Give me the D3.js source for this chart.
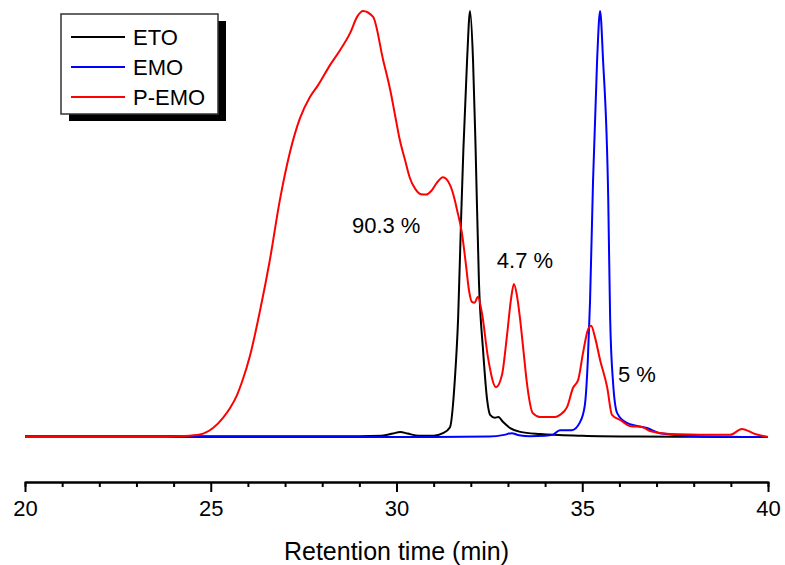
<!DOCTYPE html>
<html>
<head>
<meta charset="utf-8">
<script src="https://cdn.jsdelivr.net/npm/d3@7"></script>
<style>
  html, body { margin: 0; padding: 0; background: #ffffff; }
  svg { display: block; font-family: Arial, "Liberation Sans", sans-serif; }
</style>
</head>
<body>
<svg id="chart" width="785" height="565"></svg>
<script>
// ---- data (retention time in min, signal in arbitrary units) ----
const seriesNames = ["ETO", "EMO", "P-EMO"];
const seriesColors = ["#000000", "#0000ff", "#ff0000"];
const majorTicks = [20, 25, 30, 35, 40];
const minorTicks = [21, 22, 23, 24, 26, 27, 28, 29, 31, 32, 33, 34, 36, 37, 38, 39];
const xTitle = "Retention time (min)";
const annotations = [
  { text: "90.3 %", x: 28.8, y: 47.9 },
  { text: "4.7 %", x: 32.7, y: 39.7 },
  { text: "5 %", x: 35.96, y: 12.9 }
];

const etoData = [
  [20, 0.2], [25, 0.2], [29.0, 0.2], [29.6, 0.3], [29.9, 0.8], [30.1, 1.2], [30.3, 0.8],
  [30.6, 0.3], [31.0, 0.3], [31.25, 0.9], [31.44, 2.3], [31.57, 13.4], [31.66, 28.2],
  [31.74, 51.6], [31.80, 67.4], [31.90, 88.5], [31.98, 100], [32.06, 88.5], [32.13, 67.4],
  [32.22, 36.2], [32.33, 20.4], [32.44, 8.7], [32.52, 5.2], [32.65, 4.5], [32.74, 4.7],
  [32.87, 3.5], [33.06, 2.1], [33.33, 1.2], [33.87, 0.7], [35.0, 0.3], [36.5, 0.1],
  [38.0, 0.05], [40, 0]
];

const emoData = [
  [20, 0], [29, 0], [31, 0], [32.5, 0.1], [32.9, 0.5], [33.1, 0.9], [33.3, 0.4],
  [33.6, 0.2], [34.0, 0.3], [34.2, 0.5], [34.4, 1.6], [34.72, 1.6], [34.94, 3.5],
  [35.07, 7.5], [35.15, 18], [35.21, 32], [35.29, 60], [35.40, 88.5], [35.48, 100],
  [35.56, 88.5], [35.70, 55.6], [35.75, 28.2], [35.83, 12.7], [35.94, 5.6], [36.20, 3.3],
  [36.74, 2.1], [37.09, 0.9], [38.17, 0.2], [40, 0]
];

const pemoData = [
  [20, 0], [23.5, 0], [24.2, 0.2], [24.71, 0.6], [25.06, 2.1], [25.33, 4.5], [25.52, 6.8],
  [25.71, 9.9], [25.84, 12.9], [26.06, 19.2], [26.33, 29.8], [26.59, 41.5], [26.86, 55.6],
  [27.13, 66.8], [27.40, 74.8], [27.67, 79.8], [27.89, 82.6], [28.21, 87.3], [28.48, 90.8],
  [28.75, 94.8], [28.95, 98.8], [29.10, 100], [29.37, 98.6], [29.64, 88.5], [29.83, 81.5],
  [29.96, 75.6], [30.09, 69.7], [30.23, 65.0], [30.36, 60.8], [30.50, 58.3], [30.66, 57.0],
  [30.80, 56.9], [30.94, 57.8], [31.08, 59.6], [31.25, 61.0], [31.44, 59.2], [31.57, 55.6], [31.63, 53.3],
  [31.76, 47.9], [31.87, 40.4], [31.95, 34.5], [32.03, 31.7], [32.10, 31.5], [32.19, 32.9],
  [32.30, 29.1], [32.46, 18.8], [32.68, 11.7], [32.84, 14.6], [32.97, 23.5], [33.08, 32.2],
  [33.16, 35.9], [33.24, 33.3], [33.32, 28.2], [33.43, 19.2], [33.51, 12.7], [33.67, 5.6],
  [33.86, 4.7], [34.27, 4.7], [34.40, 5.2], [34.59, 7.0], [34.75, 11.5], [34.89, 13.4],
  [35.02, 19.7], [35.15, 25.1], [35.24, 26.1], [35.34, 23.5], [35.48, 18.1], [35.67, 11.7],
  [35.80, 5.2], [36.02, 4.0], [36.28, 2.6], [36.63, 2.3], [36.82, 1.4], [37.36, 0.7],
  [38.98, 0.5], [39.30, 1.9], [39.65, 0.7], [40, 0]
];

const allSeries = [etoData, emoData, pemoData];

// ---- scales ----
const svg = d3.select("#chart");
const x = d3.scaleLinear().domain([20, 40]).range([25, 768]);
const y = d3.scaleLinear().domain([0, 100]).range([437, 11]);
const axisY = 482;

// ---- curves ----
const line = d3.line()
  .x(d => x(d[0]))
  .y(d => y(d[1]))
  .curve(d3.curveMonotoneX);

svg.append("g").selectAll("path")
  .data(allSeries)
  .join("path")
  .attr("d", d => line(d))
  .attr("fill", "none")
  .attr("stroke", (d, i) => seriesColors[i])
  .attr("stroke-width", 2)
  .attr("stroke-linejoin", "round");

// ---- x axis ----
const gMinor = svg.append("g").attr("transform", `translate(0,${axisY})`)
  .call(d3.axisBottom(x).tickValues(minorTicks).tickSize(5).tickFormat(""));
const gMajor = svg.append("g").attr("transform", `translate(0,${axisY})`)
  .call(d3.axisBottom(x).tickValues(majorTicks).tickSize(10).tickSizeOuter(0).tickPadding(8));
[gMinor, gMajor].forEach(g => {
  g.select(".domain").attr("stroke", "#000").attr("stroke-width", 2);
  g.selectAll(".tick line").attr("stroke", "#000").attr("stroke-width", 2);
});
gMajor.selectAll(".tick text")
  .attr("fill", "#000")
  .style("font-size", "22px")
  .style("font-family", "Arial, 'Liberation Sans', sans-serif");

svg.append("text")
  .attr("x", (x(20) + x(40)) / 2)
  .attr("y", 560)
  .attr("text-anchor", "middle")
  .style("font-size", "25px")
  .attr("fill", "#000")
  .text(xTitle);

// ---- annotations ----
svg.append("g").selectAll("text")
  .data(annotations)
  .join("text")
  .attr("x", d => x(d.x))
  .attr("y", d => y(d.y))
  .style("font-size", "22px")
  .attr("fill", "#000")
  .text(d => d.text);

// ---- legend ----
const lg = svg.append("g");
const lx = 61, ly = 14, lw = 157, lh = 100;
lg.append("rect").attr("x", lx + 8).attr("y", ly + 7).attr("width", lw).attr("height", lh).attr("fill", "#000");
lg.append("rect").attr("x", lx).attr("y", ly).attr("width", lw).attr("height", lh)
  .attr("fill", "#fff").attr("stroke", "#333").attr("stroke-width", 1.5);
const rows = lg.selectAll("g.row").data(seriesNames).join("g")
  .attr("transform", (d, i) => `translate(0,${37 + i * 30})`);
rows.append("line").attr("x1", 71).attr("x2", 125).attr("y1", 0).attr("y2", 0)
  .attr("stroke", (d, i) => seriesColors[i]).attr("stroke-width", 2);
rows.append("text").attr("x", 133).attr("y", 8).style("font-size", "22px").attr("fill", "#000")
  .text(d => d);
</script>
</body>
</html>
